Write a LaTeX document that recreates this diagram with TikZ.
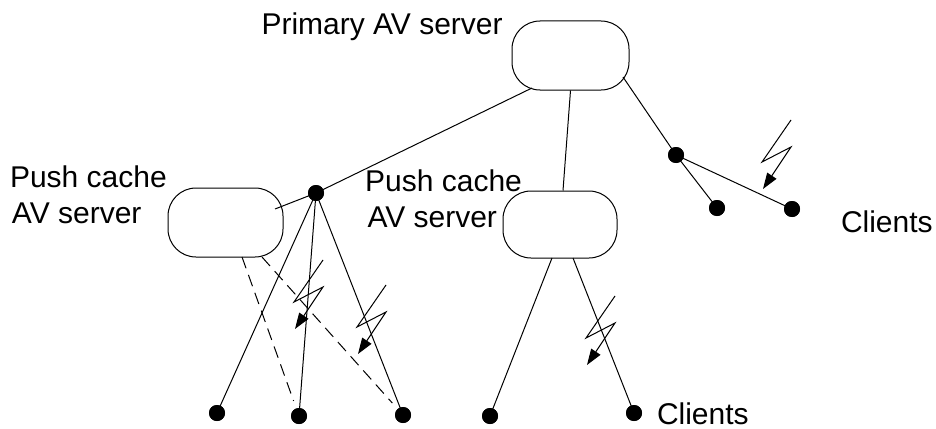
\documentclass[tikz,border=0pt]{standalone}
\usepackage{fontspec}
\setmainfont{Liberation Sans}
\usetikzlibrary{arrows.meta,calc}
\begin{document}
\begin{tikzpicture}[x=1pt,y=-1pt, line width=1pt,
  server/.style={draw, rectangle, rounded corners=28pt, minimum width=117pt, minimum height=69pt, inner sep=0pt},
  client/.style={circle, fill=black, minimum size=16pt, inner sep=0pt},
  txt/.style={anchor=base west, inner sep=0pt, font=\fontsize{30}{36}\selectfont},
  bolt/.pic={\draw[-{Triangle[length=16pt,width=11pt]}] (0,0) -- ++(-29,42) -- ++(29,-15) -- ++(-28,42);},
  wireless/.style={dash pattern=on 12pt off 7pt, shorten >=16pt}]
\path[use as bounding box] (0,0) rectangle (936,428);

% servers
\node[server] (prim) at (570.5,55.5) {};
\node[server, minimum width=115pt] (lsrv) at (225.5,222.5) {};
\node[server, minimum width=114pt, minimum height=67pt] (msrv) at (560,224.5) {};

% client / hub dots
\node[client] (hub) at (316,193) {};
\node[client] (rhub) at (676,155) {};
\node[client] (rc1) at (717,208) {};
\node[client] (rc2) at (792,209) {};
\node[client] (b1) at (217,413) {};
\node[client] (b2) at (299,416) {};
\node[client] (b3) at (403,415) {};
\node[client] (b4) at (490,416) {};
\node[client] (b5) at (634,413) {};

% links
\draw ($(prim.center)+(-38.5,32.5)$) -- (hub.center);
\draw (hub.center) -- ($(lsrv.center)+(49.5,-13.5)$);
\draw (prim.south) -- ($(msrv.north)+(3,0)$);
\draw ($(prim.center)+(52.5,21.5)$) -- (rhub.center);
\draw (rhub.center) -- (rc1.center);
\draw (rhub.center) -- (rc2.center);
\draw (hub.center) -- (b1.center);
\draw (hub.center) -- (b2.center);
\draw (hub.center) -- (b3.center);
\draw ($(msrv.center)+(-8,33.5)$) -- (b4.center);
\draw ($(msrv.center)+(13,33.5)$) -- (b5.center);
\draw[wireless] ($(lsrv.center)+(16.5,34.5)$) -- (b2.center);
\draw[wireless] ($(lsrv.center)+(36.5,34.5)$) -- (b3.center);

% wireless bolts
\pic at (323,260) {bolt};
\pic at (386,285) {bolt};
\pic at (615,296) {bolt};
\pic at (791,120) {bolt};

% redraw dots on top
\foreach \n in {hub,rhub,rc1,rc2,b1,b2,b3,b4,b5}{\fill (\n.center) circle (8pt);}

% labels
\node[txt] (t1) at (261,35) {Primary AV server};
\node[txt] (t2) at (9.5,187) {Push cache};
\node[txt] (t3) at (11.5,223) {AV server};
\node[txt] (t4) at (364.7,191) {Push cache};
\node[txt] (t5) at (367,227) {AV server};
\node[txt] (t6) at (840.5,232) {Clients};
\node[txt] (t7) at (656.5,424) {Clients};
\end{tikzpicture}
\end{document}
